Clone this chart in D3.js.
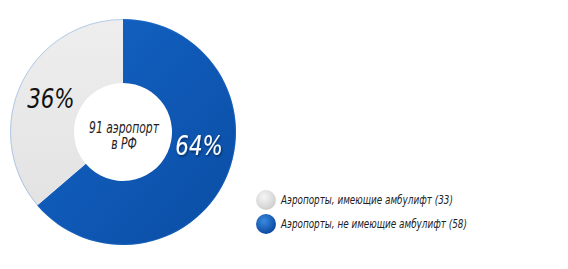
<!DOCTYPE html>
<html lang="ru">
<head>
<meta charset="UTF-8">
<title>Аэропорты с амбулифтом</title>
<style>
  body { margin: 0; background: #fff; }
  svg { display: block; }
  .lbl { font-family: 'DejaVu Sans Condensed', 'DejaVu Sans', sans-serif; font-style: italic; }
</style>
</head>
<body>
<div id="chart"></div>
<script src="https://d3js.org/d3.v7.min.js"></script>
<script>
const categories = ["Аэропорты, не имеющие амбулифт", "Аэропорты, имеющие амбулифт"];
const values = [58, 33];
const percentLabels = ["64%", "36%"];
const legendOrder = [1, 0];
const centerText = ["91 аэропорт", "в РФ"];

const W = 568, H = 269;
const cx = 123, cy = 132, rOuter = 113, rInner = 49;

const svg = d3.select("#chart").append("svg")
  .attr("width", W).attr("height", H);

const defs = svg.append("defs");
const gBlue = defs.append("linearGradient").attr("id", "gBlue")
  .attr("x1", "0%").attr("y1", "0%").attr("x2", "100%").attr("y2", "100%");
gBlue.append("stop").attr("offset", "0%").attr("stop-color", "#1464c6");
gBlue.append("stop").attr("offset", "100%").attr("stop-color", "#0a4da4");
const gGrey = defs.append("linearGradient").attr("id", "gGrey")
  .attr("x1", "0%").attr("y1", "0%").attr("x2", "0%").attr("y2", "100%");
gGrey.append("stop").attr("offset", "0%").attr("stop-color", "#eeeeee");
gGrey.append("stop").attr("offset", "100%").attr("stop-color", "#e3e3e3");

const rBlue = defs.append("radialGradient").attr("id", "rBlue")
  .attr("cx", "40%").attr("cy", "35%").attr("r", "65%");
rBlue.append("stop").attr("offset", "0%").attr("stop-color", "#3a8ae0");
rBlue.append("stop").attr("offset", "100%").attr("stop-color", "#0b4aa0");
const rGrey = defs.append("radialGradient").attr("id", "rGrey")
  .attr("cx", "40%").attr("cy", "35%").attr("r", "65%");
rGrey.append("stop").attr("offset", "0%").attr("stop-color", "#f6f6f6");
rGrey.append("stop").attr("offset", "100%").attr("stop-color", "#cfcfcf");

const shadow = defs.append("filter").attr("id", "shadow")
  .attr("x", "-20%").attr("y", "-20%").attr("width", "140%").attr("height", "140%");
shadow.append("feDropShadow").attr("dx", 1).attr("dy", 1.5)
  .attr("stdDeviation", 1).attr("flood-color", "#000").attr("flood-opacity", 0.5);

const fills = ["url(#gBlue)", "url(#gGrey)"];
const legendFills = ["url(#rBlue)", "url(#rGrey)"];
const textFills = ["#ffffff", "#111111"];

const pie = d3.pie().sort(null).value(d => d);
const arcs = pie(values);
const arc = d3.arc().innerRadius(rInner).outerRadius(rOuter);

const g = svg.append("g").attr("transform", `translate(${cx},${cy})`);

g.selectAll("path.slice")
  .data(arcs)
  .enter().append("path")
  .attr("class", "slice")
  .attr("d", arc)
  .attr("fill", (d, i) => fills[i]);

// thin edge on outer rim
g.append("circle").attr("r", rOuter - 0.5)
  .attr("fill", "none").attr("stroke", "#2f7fdc").attr("stroke-opacity", 0.3);

// percent labels, nudged from the arc centroid to sit like the original
const labelArc = d3.arc().innerRadius((rInner + rOuter) / 2).outerRadius((rInner + rOuter) / 2);
const nudge = [[2.5, -11], [1.5, 10]];
g.selectAll("g.pct")
  .data(arcs)
  .enter().append("g")
  .attr("class", "pct")
  .attr("transform", (d, i) => {
    const [x, y] = labelArc.centroid(d);
    return `translate(${x + nudge[i][0]},${y + nudge[i][1]}) scale(0.88,1)`;
  })
  .append("text")
  .attr("class", "lbl")
  .attr("text-anchor", "middle")
  .attr("font-size", 27)
  .attr("fill", (d, i) => textFills[i])
  .attr("filter", (d, i) => i === 0 ? "url(#shadow)" : null)
  .text((d, i) => percentLabels[i]);

g.selectAll("g.center")
  .data(centerText)
  .enter().append("g")
  .attr("class", "center")
  .attr("transform", (d, i) => `translate(1,${1 + i * 16}) scale(0.8,1)`)
  .append("text")
  .attr("class", "lbl")
  .attr("text-anchor", "middle")
  .attr("font-size", 15)
  .attr("fill", "#222")
  .text(d => d);

const legend = svg.append("g").attr("transform", "translate(266,200)");
const items = legend.selectAll("g.item")
  .data(legendOrder)
  .enter().append("g")
  .attr("class", "item")
  .attr("transform", (d, i) => `translate(0,${i * 24})`);
items.append("circle").attr("r", 10).attr("fill", d => legendFills[d]);
items.append("g")
  .attr("transform", "translate(15,4) scale(0.855,1)")
  .append("text")
  .attr("class", "lbl")
  .attr("font-size", 11.5)
  .attr("fill", "#222")
  .text(d => `${categories[d]} (${values[d]})`);
</script>
</body>
</html>
